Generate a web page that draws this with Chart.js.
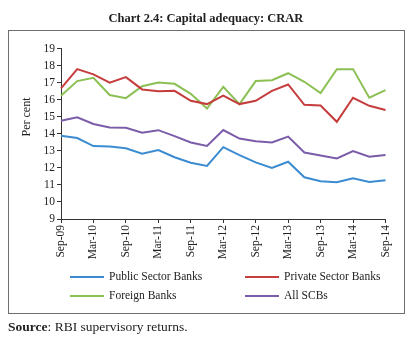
<!DOCTYPE html>
<html>
<head>
<meta charset="utf-8">
<script src="https://cdn.jsdelivr.net/npm/chart.js@4.4.0/dist/chart.umd.min.js"></script>
<style>
  html, body { margin: 0; padding: 0; background: #fff; }
  #wrap { position: relative; width: 419px; height: 341px; overflow: hidden; }
  #c { position: absolute; left: 0; top: 0; }
  #title { position: absolute; left: 0; top: 11px; width: 412px; text-align: center;
           font: bold 12.5px "Liberation Serif", "DejaVu Serif", serif; color: #222; }
  #frame { position: absolute; left: 8px; top: 30px; width: 395px; height: 282px;
           border: 1.5px solid #6e6e6e; pointer-events: none; }
  #source { position: absolute; left: 8px; top: 319px;
            font: 13.5px "Liberation Serif", "DejaVu Serif", serif; color: #222; }
</style>
</head>
<body>
<div id="wrap">
  <canvas id="c" width="419" height="341"></canvas>
  <div id="frame"></div>
  <div id="title">Chart 2.4: Capital adequacy: CRAR</div>
  <div id="source"><b>Source</b>: RBI supervisory returns.</div>
</div>
<script>
const categories = ["Sep-09","Dec-09","Mar-10","Jun-10","Sep-10","Dec-10","Mar-11","Jun-11","Sep-11","Dec-11","Mar-12","Jun-12","Sep-12","Dec-12","Mar-13","Jun-13","Sep-13","Dec-13","Mar-14","Jun-14","Sep-14"];
const publicSector = [13.88,13.75,13.28,13.25,13.15,12.83,13.04,12.62,12.30,12.11,13.21,12.75,12.32,11.99,12.36,11.45,11.21,11.16,11.39,11.17,11.27];
const privateSector = [16.66,17.79,17.48,17.00,17.32,16.60,16.50,16.52,15.93,15.74,16.23,15.74,15.93,16.52,16.89,15.70,15.66,14.70,16.11,15.64,15.39];
const foreignBanks = [16.23,17.09,17.28,16.27,16.09,16.79,17.00,16.93,16.34,15.48,16.75,15.74,17.09,17.14,17.55,17.05,16.38,17.79,17.79,16.11,16.56];
const allSCBs = [14.76,14.96,14.57,14.37,14.35,14.06,14.21,13.86,13.49,13.28,14.22,13.72,13.56,13.49,13.83,12.90,12.73,12.55,12.98,12.65,12.75];
const seriesNames = ["Public Sector Banks","Private Sector Banks","Foreign Banks","All SCBs"];
const yAxisTitle = "Per cent";
const yMin = 9, yMax = 19;

const colors = ["#3b8bd0","#c63d3d","#8cc055","#7b5ca8"];
const FONT = '"Liberation Serif", "DejaVu Serif", serif';

const overlay = {
  id: 'overlay',
  afterDraw(chart) {
    const ctx = chart.ctx;
    ctx.save();
    ctx.fillStyle = '#222';
    ctx.font = '12px ' + FONT;
    ctx.translate(27, 117);
    ctx.rotate(-Math.PI / 2);
    ctx.textAlign = 'center';
    ctx.textBaseline = 'middle';
    ctx.fillText(yAxisTitle, 0, 0);
    ctx.restore();
    ctx.save();
    const pos = [[70, 277], [245, 277], [70, 296], [245, 296]];
    ctx.font = '11.5px ' + FONT;
    ctx.textBaseline = 'middle';
    ctx.textAlign = 'left';
    chart.data.datasets.forEach((ds, i) => {
      const [x, y] = pos[i];
      ctx.strokeStyle = ds.borderColor;
      ctx.lineWidth = 2;
      ctx.beginPath();
      ctx.moveTo(x, y);
      ctx.lineTo(x + 34, y);
      ctx.stroke();
      ctx.fillStyle = '#222';
      ctx.fillText(ds.label, x + 39, y);
    });
    ctx.restore();
  }
};

const datasets = [publicSector, privateSector, foreignBanks, allSCBs].map((d, i) => ({
  label: seriesNames[i],
  data: d,
  borderColor: colors[i],
  backgroundColor: colors[i],
  borderWidth: 2,
  pointRadius: 0,
  tension: 0,
  fill: false
}));

new Chart(document.getElementById('c'), {
  type: 'line',
  data: { labels: categories, datasets },
  options: {
    responsive: false,
    animation: false,
    layout: { padding: { left: 0, top: 48.5, right: 33.5, bottom: 0 } },
    plugins: { legend: { display: false }, title: { display: false }, tooltip: { enabled: false } },
    scales: {
      x: {
        type: 'category',
        offset: false,
        afterFit(scale) { scale.height = 122; },
        border: { display: true, color: '#333', width: 1 },
        grid: { display: true, drawOnChartArea: false, drawTicks: true, tickLength: 4, color: '#333' },
        ticks: {
          autoSkip: false,
          minRotation: 90, maxRotation: 90,
          padding: 2,
          color: '#222',
          font: { family: FONT, size: 11.5 },
          callback(value, index) { return index % 2 === 0 ? categories[index] : null; }
        }
      },
      y: {
        min: yMin, max: yMax,
        afterFit(scale) { scale.width = 61; },
        border: { display: true, color: '#333', width: 1 },
        grid: { display: true, drawOnChartArea: false, drawTicks: true, tickLength: 4, color: '#333' },
        ticks: {
          stepSize: 1,
          padding: 2,
          color: '#222',
          font: { family: FONT, size: 11.5 }
        }
      }
    }
  },
  plugins: [overlay]
});
</script>
</body>
</html>
